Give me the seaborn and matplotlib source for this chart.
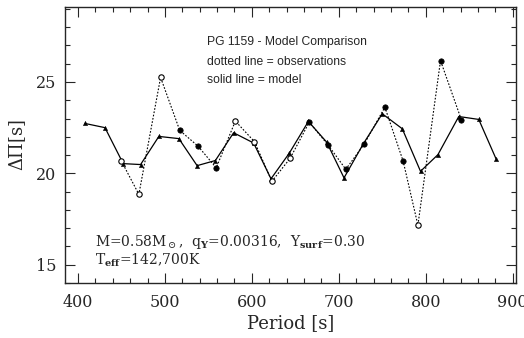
import matplotlib
matplotlib.use("Agg")
import matplotlib.pyplot as plt
import seaborn as sns
import pandas as pd
from matplotlib.ticker import MultipleLocator

# Model (solid line, triangles)
model_period = [408, 431, 452, 472, 493, 516, 537, 558, 579, 602, 622, 643,
                665, 686, 706, 728, 750, 773, 794, 814, 838, 861, 881]
model_dp = [22.73, 22.50, 20.53, 20.48, 22.02, 21.90, 20.42, 20.70, 22.22, 21.66,
            19.70, 21.10, 22.84, 21.71, 19.75, 21.60, 23.26, 22.44, 20.11, 21.02,
            23.11, 22.95, 20.78]

# Observations (dotted line, circles; open / filled)
obs_period = [450, 470, 495, 517, 538, 559, 581, 603, 623, 644,
              666, 688, 708, 729, 753, 774, 791, 817, 841]
obs_dp = [20.66, 18.85, 25.25, 22.35, 21.49, 20.30, 22.86, 21.73, 19.56, 20.82,
          22.80, 21.53, 20.22, 21.58, 23.62, 20.67, 17.16, 26.17, 22.93]
obs_kind = ["open", "open", "open", "filled", "filled", "filled", "open", "open", "open", "open",
            "filled", "filled", "filled", "filled", "filled", "filled", "open", "filled", "filled"]

x_ticks = [400, 500, 600, 700, 800, 900]
y_ticks = [15, 20, 25]

sns.set_style("ticks")
plt.rcParams["font.family"] = ["DejaVu Serif"]
plt.rcParams["mathtext.fontset"] = "dejavuserif"

model = pd.DataFrame({"period": model_period, "dp": model_dp})
obs = pd.DataFrame({"period": obs_period, "dp": obs_dp, "kind": obs_kind})

fig = plt.figure(figsize=(5.24, 3.38), dpi=100)
ax = fig.add_axes([0.124, 0.163, 0.861, 0.816])

sns.lineplot(data=obs, x="period", y="dp", ax=ax, color="black", lw=0.8,
             linestyle=(0, (1.5, 1.5)), sort=False)
sns.lineplot(data=model, x="period", y="dp", ax=ax, color="black", lw=0.9, sort=False)
sns.scatterplot(data=model, x="period", y="dp", ax=ax, marker="^", s=9,
                color="black", edgecolor="black", linewidth=0.4, zorder=3)
o = obs[obs["kind"] == "open"]
f = obs[obs["kind"] == "filled"]
sns.scatterplot(data=o, x="period", y="dp", ax=ax, marker="o", s=15,
                facecolor="white", edgecolor="black", linewidth=0.8, zorder=4)
sns.scatterplot(data=f, x="period", y="dp", ax=ax, marker="o", s=15,
                color="black", edgecolor="black", linewidth=0.5, zorder=4)

ax.set_xlim(385, 904)
ax.set_ylim(14, 29.1)
ax.set_xticks(x_ticks)
ax.set_yticks(y_ticks)
ax.xaxis.set_minor_locator(MultipleLocator(20))
ax.yaxis.set_minor_locator(MultipleLocator(1))
ax.tick_params(which="both", direction="in", top=True, right=True, width=0.8)
ax.tick_params(which="major", length=7, labelsize=11.5)
ax.tick_params(axis="x", which="major", pad=8)
ax.tick_params(axis="y", which="major", pad=6)
ax.tick_params(which="minor", length=3.5)
for s in ax.spines.values():
    s.set_linewidth(1.0)

ax.set_xlabel("Period [s]", fontsize=13, labelpad=2)
ax.set_ylabel(r"$\Delta\Pi$[s]", fontsize=13, labelpad=6)

sans = ["Liberation Sans", "DejaVu Sans"]
ax.text(0.314, 0.873, "PG 1159 - Model Comparison", transform=ax.transAxes,
        fontsize=8.7, family=sans, va="center")
ax.text(0.314, 0.802, "dotted line = observations", transform=ax.transAxes,
        fontsize=8.7, family=sans, va="center")
ax.text(0.314, 0.737, "solid line = model", transform=ax.transAxes,
        fontsize=8.7, family=sans, va="center")

ax.text(0.066, 0.15, r"M=0.58M$_\odot$,  q$_\mathbf{Y}$=0.00316,  Y$_\mathbf{surf}$=0.30",
        transform=ax.transAxes, fontsize=10, va="center")
ax.text(0.066, 0.083, r"T$_\mathbf{eff}$=142,700K",
        transform=ax.transAxes, fontsize=10, va="center")

fig.savefig("out.png", dpi=100)
